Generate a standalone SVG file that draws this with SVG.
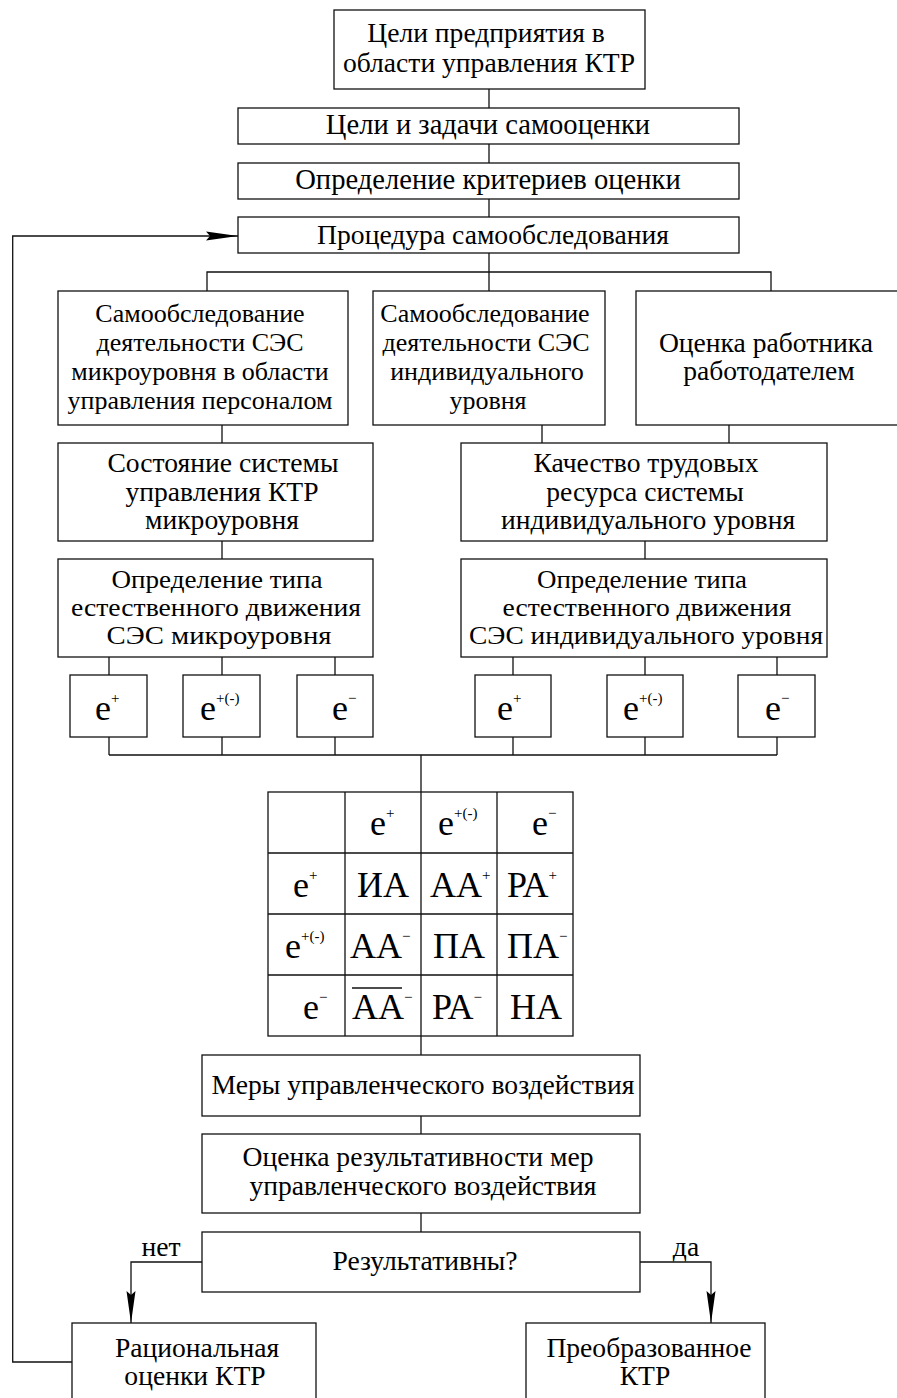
<svg xmlns="http://www.w3.org/2000/svg" width="897" height="1398" viewBox="0 0 897 1398">
<style>
.box{fill:#fff;stroke:#111;stroke-width:1.3}
.c{fill:none;stroke:#111;stroke-width:1.3}
.t{font-family:"Liberation Serif","Times New Roman",serif;font-size:27.6px;fill:#000;text-anchor:middle}
.t2{font-size:28.6px}
.t1{font-size:26px}
.t3{font-size:25px}
.e{font-family:"Liberation Serif","Times New Roman",serif;font-size:36px;fill:#000}
.s{font-size:15px}
</style>
<defs>
<marker id="ah" viewBox="0 0 32 10" refX="32" refY="5" markerWidth="32" markerHeight="10" markerUnits="userSpaceOnUse" orient="auto">
<path d="M0,0.5 L32,5 L0,9.5 L4,5 Z" fill="#000"/>
</marker>
</defs>
<rect width="897" height="1398" fill="#fff"/>
<g id="connectors">
<path class="c" d="M489,89V108M489,144V163M489,199V217M489,253V291M207,291V272H771V291"/>
<path class="c" d="M222,425V443M542,425V443M729,425V443M222,541V559M645,541V559"/>
<path class="c" d="M109,657V675M222,657V675M335,657V675M513,657V675M645,657V675M777,657V675"/>
<path class="c" d="M109,737V755M222,737V755M335,737V755M513,737V755M645,737V755M777,737V755M109,755H777M421,755V792"/>
<path class="c" d="M421,1036V1055M421,1116V1134M421,1213V1232"/>
<path class="c" d="M202,1262H131V1323" marker-end="url(#ah)"/>
<path class="c" d="M640,1262H711V1323" marker-end="url(#ah)"/>
<path class="c" d="M72,1362H12.7V236H238" marker-end="url(#ah)"/>
</g>
<g id="goals"><rect class="box" x="334" y="10" width="311" height="79"/><text class="t" x="486" y="42">Цели предприятия в</text><text class="t" x="489" y="72">области управления КТР</text></g>
<g id="tasks"><rect class="box" x="238" y="108" width="501" height="36"/><text class="t t2" x="488" y="134">Цели и задачи самооценки</text></g>
<g id="criteria"><rect class="box" x="238" y="163" width="501" height="36"/><text class="t t2" x="488" y="189">Определение критериев оценки</text></g>
<g id="procedure"><rect class="box" x="238" y="217" width="501" height="36"/><text class="t" x="493" y="244">Процедура самообследования</text></g>
<g id="self-micro"><rect class="box" x="58" y="291" width="290" height="134"/><text class="t t1" x="200" y="322">Самообследование</text><text class="t t1" x="200" y="351">деятельности СЭС</text><text class="t t1" x="200" y="380">микроуровня в области</text><text class="t t1" x="200" y="409">управления персоналом</text></g>
<g id="self-ind"><rect class="box" x="373" y="291" width="232" height="134"/><text class="t t1" x="485" y="322">Самообследование</text><text class="t t1" x="486" y="351">деятельности СЭС</text><text class="t t1" x="487" y="380">индивидуального</text><text class="t t1" x="488" y="409">уровня</text></g>
<g id="employer"><rect class="box" x="636" y="291" width="270" height="134"/><text class="t" x="766" y="352">Оценка работника</text><text class="t" x="769" y="380">работодателем</text></g>
<g id="state"><rect class="box" x="58" y="443" width="315" height="98"/><text class="t" x="223" y="472">Состояние системы</text><text class="t" x="222" y="501">управления КТР</text><text class="t" x="222" y="529">микроуровня</text></g>
<g id="quality"><rect class="box" x="461" y="443" width="366" height="98"/><text class="t" x="646" y="472">Качество трудовых</text><text class="t" x="645" y="501">ресурса системы</text><text class="t" x="648" y="529">индивидуального уровня</text></g>
<g id="type-micro"><rect class="box" x="58" y="559" width="315" height="98"/><text class="t t3" x="217" y="588" textLength="211" lengthAdjust="spacingAndGlyphs">Определение типа</text><text class="t t3" x="216" y="616" textLength="290" lengthAdjust="spacingAndGlyphs">естественного движения</text><text class="t t3" x="219" y="644" textLength="225" lengthAdjust="spacingAndGlyphs">СЭС микроуровня</text></g>
<g id="type-ind"><rect class="box" x="461" y="559" width="366" height="98"/><text class="t t3" x="642" y="588" textLength="210" lengthAdjust="spacingAndGlyphs">Определение типа</text><text class="t t3" x="647" y="616" textLength="289" lengthAdjust="spacingAndGlyphs">естественного движения</text><text class="t t3" x="646" y="644" textLength="354" lengthAdjust="spacingAndGlyphs">СЭС индивидуального уровня</text></g>
<g id="e1"><rect class="box" x="70" y="675" width="77" height="62"/><text class="e" x="95" y="720">e<tspan class="s" dy="-17">+</tspan></text></g>
<g id="e2"><rect class="box" x="183" y="675" width="77" height="62"/><text class="e" x="200" y="720">e<tspan class="s" dy="-17">+(-)</tspan></text></g>
<g id="e3"><rect class="box" x="297" y="675" width="76" height="62"/><text class="e" x="332" y="720">e<tspan class="s" dy="-17">−</tspan></text></g>
<g id="e4"><rect class="box" x="475" y="675" width="76" height="62"/><text class="e" x="497" y="720">e<tspan class="s" dy="-17">+</tspan></text></g>
<g id="e5"><rect class="box" x="607" y="675" width="76" height="62"/><text class="e" x="623" y="720">e<tspan class="s" dy="-17">+(-)</tspan></text></g>
<g id="e6"><rect class="box" x="738" y="675" width="77" height="62"/><text class="e" x="765" y="720">e<tspan class="s" dy="-17">−</tspan></text></g>
<g id="matrix">
<rect class="box" x="268" y="792" width="305" height="244"/>
<path class="c" d="M345,792V1036M421,792V1036M497,792V1036M268,853H573M268,914H573M268,975H573"/>
<text class="e" x="370" y="835">e<tspan class="s" dy="-17">+</tspan></text>
<text class="e" x="438" y="835">e<tspan class="s" dy="-17">+(-)</tspan></text>
<text class="e" x="532" y="835">e<tspan class="s" dy="-17">−</tspan></text>
<text class="e" x="293" y="897">e<tspan class="s" dy="-17">+</tspan></text>
<text class="e" x="285" y="958">e<tspan class="s" dy="-17">+(-)</tspan></text>
<text class="e" x="303" y="1019">e<tspan class="s" dy="-17">−</tspan></text>
<text class="e" x="357" y="897">ИА</text>
<text class="e" x="430" y="897">АА<tspan class="s" dy="-17">+</tspan></text>
<text class="e" x="507" y="897">РА<tspan class="s" dy="-17">+</tspan></text>
<text class="e" x="350" y="958">АА<tspan class="s" dy="-17">−</tspan></text>
<text class="e" x="433" y="958">ПА</text>
<text class="e" x="507" y="958">ПА<tspan class="s" dy="-17">−</tspan></text>
<text class="e" x="352" y="1019">АА<tspan class="s" dy="-17">−</tspan></text>
<path class="c" d="M352,988H402"/>
<text class="e" x="432" y="1019">РА<tspan class="s" dy="-17">−</tspan></text>
<text class="e" x="510" y="1019">НА</text>
</g>
<g id="measures"><rect class="box" x="202" y="1055" width="438" height="61"/><text class="t" x="423" y="1094">Меры управленческого воздействия</text></g>
<g id="evaluation"><rect class="box" x="202" y="1134" width="438" height="79"/><text class="t" x="418" y="1166">Оценка результативности мер</text><text class="t" x="423" y="1195">управленческого воздействия</text></g>
<g id="decision"><rect class="box" x="202" y="1232" width="438" height="60"/><text class="t" x="425" y="1270">Результативны?</text></g>
<text class="t" x="161" y="1256">нет</text>
<text class="t" x="686" y="1256">да</text>
<g id="rational"><rect class="box" x="72" y="1323" width="244" height="90"/><text class="t" x="197" y="1357">Рациональная</text><text class="t" x="195" y="1385">оценки КТР</text></g>
<g id="transformed"><rect class="box" x="526" y="1323" width="239" height="90"/><text class="t" x="649" y="1357">Преобразованное</text><text class="t" x="645" y="1385">КТР</text></g>
</svg>
